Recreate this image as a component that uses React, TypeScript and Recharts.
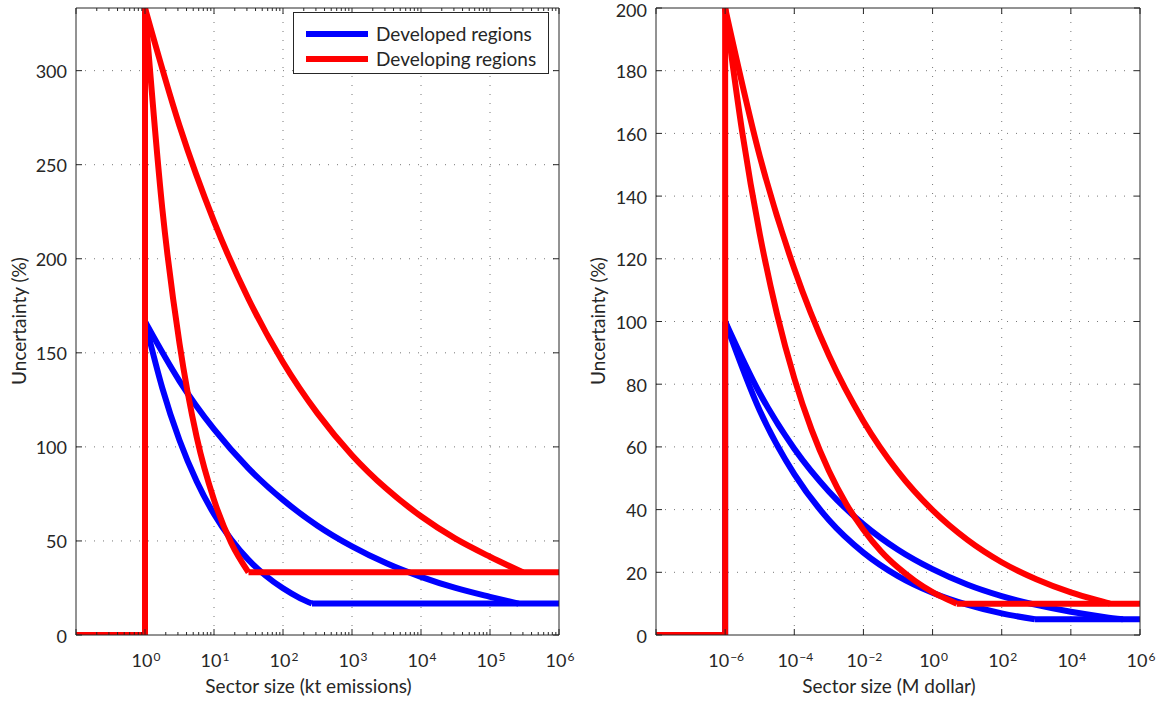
import React from "react";
import { LineChart, Line, XAxis, YAxis, ReferenceLine } from "recharts";

type Pt = { x: number; y: number };

const FONT = "Lato, 'Open Sans', sans-serif";
const BLUE = "#0000ff";
const RED = "#ff0000";
const AXIS = "#262626";
const TEXT = "#262626";

// ---- left panel: sector size in kt emissions ----
const ktTicksY = [0, 50, 100, 150, 200, 250, 300];
const ktMajorX = [0.1, 1, 10, 100, 1e3, 1e4, 1e5, 1e6];
const ktLabelX = [1, 10, 100, 1e3, 1e4, 1e5, 1e6];

const ktDevelopedRise: Pt[] = [
  { x: 0.1, y: 0 },
  { x: 1, y: 0 },
  { x: 1, y: 166.7 },
];
const ktDevelopedSteep: Pt[] = [
  { x: 1, y: 166.7 },
  { x: 1.778, y: 131.4 },
  { x: 3.162, y: 103.5 },
  { x: 5.623, y: 81.6 },
  { x: 10, y: 64.3 },
  { x: 17.78, y: 50.7 },
  { x: 31.62, y: 39.9 },
  { x: 56.23, y: 31.5 },
  { x: 100, y: 24.8 },
  { x: 177.8, y: 19.5 },
  { x: 263, y: 16.7 },
];
const ktDevelopedGentle: Pt[] = [
  { x: 1, y: 166.7 },
  { x: 3.162, y: 135.0 },
  { x: 10, y: 109.4 },
  { x: 31.62, y: 88.6 },
  { x: 100, y: 71.8 },
  { x: 316.2, y: 58.1 },
  { x: 1e3, y: 47.1 },
  { x: 3162, y: 38.1 },
  { x: 1e4, y: 30.9 },
  { x: 31620, y: 25.0 },
  { x: 1e5, y: 20.3 },
  { x: 2.6e5, y: 16.7 },
];
const ktDevelopedFloor: Pt[] = [
  { x: 263, y: 16.7 },
  { x: 1e6, y: 16.7 },
];

const ktDevelopingRise: Pt[] = [
  { x: 0.1, y: 0 },
  { x: 1, y: 0 },
  { x: 1, y: 333.3 },
];
const ktDevelopingSteep: Pt[] = [
  { x: 1, y: 333.3 },
  { x: 1.778, y: 227 },
  { x: 3.162, y: 155 },
  { x: 5.623, y: 105 },
  { x: 10, y: 71.8 },
  { x: 17.78, y: 48.9 },
  { x: 31.62, y: 33.3 },
];
const ktDevelopingGentle: Pt[] = [
  { x: 1, y: 333.3 },
  { x: 3.162, y: 270.7 },
  { x: 10, y: 219.9 },
  { x: 31.62, y: 178.6 },
  { x: 100, y: 145.0 },
  { x: 316.2, y: 117.8 },
  { x: 1e3, y: 95.6 },
  { x: 3162, y: 77.7 },
  { x: 1e4, y: 63.1 },
  { x: 31620, y: 51.2 },
  { x: 1e5, y: 41.6 },
  { x: 3.0e5, y: 33.3 },
];
const ktDevelopingFloor: Pt[] = [
  { x: 31.62, y: 33.3 },
  { x: 1e6, y: 33.3 },
];

// ---- right panel: sector size in M dollar ----
const usdTicksY = [0, 20, 40, 60, 80, 100, 120, 140, 160, 180, 200];
const usdMajorX = [1e-8, 1e-6, 1e-4, 1e-2, 1, 100, 1e4, 1e6];
const usdLabelX = [1e-6, 1e-4, 1e-2, 1, 100, 1e4, 1e6];

const usdDevelopedRise: Pt[] = [
  { x: 1e-8, y: 0 },
  { x: 1e-6, y: 0 },
  { x: 1e-6, y: 100 },
];
const usdDevelopedSteep: Pt[] = [
  { x: 1e-6, y: 100 },
  { x: 1e-5, y: 71.6 },
  { x: 1e-4, y: 51.3 },
  { x: 1e-3, y: 36.7 },
  { x: 1e-2, y: 26.3 },
  { x: 1e-1, y: 18.8 },
  { x: 1, y: 13.5 },
  { x: 10, y: 9.7 },
  { x: 100, y: 6.9 },
  { x: 912, y: 5.0 },
];
const usdDevelopedGentle: Pt[] = [
  { x: 1e-6, y: 100 },
  { x: 1e-5, y: 77.1 },
  { x: 1e-4, y: 59.4 },
  { x: 1e-3, y: 45.8 },
  { x: 1e-2, y: 35.3 },
  { x: 1e-1, y: 27.2 },
  { x: 1, y: 21.0 },
  { x: 10, y: 16.1 },
  { x: 100, y: 12.4 },
  { x: 1e3, y: 9.6 },
  { x: 1e4, y: 7.4 },
  { x: 1e5, y: 5.7 },
  { x: 3.2e5, y: 5.0 },
];
const usdDevelopedFloor: Pt[] = [
  { x: 912, y: 5.0 },
  { x: 1e6, y: 5.0 },
];

const usdDevelopingRise: Pt[] = [
  { x: 1e-8, y: 0 },
  { x: 1e-6, y: 0 },
  { x: 1e-6, y: 200 },
];
const usdDevelopingSteep: Pt[] = [
  { x: 1e-6, y: 200 },
  { x: 3.162e-6, y: 160 },
  { x: 1e-5, y: 128 },
  { x: 3.162e-5, y: 102.4 },
  { x: 1e-4, y: 81.9 },
  { x: 3.162e-4, y: 65.5 },
  { x: 1e-3, y: 52.4 },
  { x: 3.162e-3, y: 41.9 },
  { x: 1e-2, y: 33.6 },
  { x: 3.162e-2, y: 26.8 },
  { x: 0.1, y: 21.5 },
  { x: 0.3162, y: 17.2 },
  { x: 1, y: 13.7 },
  { x: 3.162, y: 11.0 },
  { x: 5.0, y: 10 },
];
const usdDevelopingGentle: Pt[] = [
  { x: 1e-6, y: 200 },
  { x: 1e-5, y: 152.8 },
  { x: 1e-4, y: 116.8 },
  { x: 1e-3, y: 89.2 },
  { x: 1e-2, y: 68.2 },
  { x: 0.1, y: 52.1 },
  { x: 1, y: 39.8 },
  { x: 10, y: 30.4 },
  { x: 100, y: 23.2 },
  { x: 1e3, y: 17.8 },
  { x: 1e4, y: 13.6 },
  { x: 1e5, y: 10.4 },
  { x: 1.35e5, y: 10 },
];
const usdDevelopingFloor: Pt[] = [
  { x: 5.0, y: 10 },
  { x: 1e6, y: 10 },
];

// minor log ticks 2..9 per decade
function minorTicks(from: number, to: number) {
  const out: number[] = [];
  for (let e = from; e < to; e++) {
    for (let m = 2; m <= 9; m++) out.push(m * Math.pow(10, e));
  }
  return out;
}

function expLabel(v: number) {
  return String(Math.round(Math.log10(v))).replace("-", "\u2212");
}

type PanelProps = {
  width: number;
  plotRight: number;
  yMax: number;
  yTicks: number[];
  xDomain: [number, number];
  xMajor: number[];
  xLabelled: number[];
  xMinor: number[];
  xTitle: string;
  blue: Pt[][];
  red: Pt[][];
};

function Panel({ width, plotRight, yMax, yTicks, xDomain, xMajor, xLabelled, xMinor, xTitle, blue, red }: PanelProps) {
  const xTicks = [...xMajor, ...xMinor];
  const near = (list: number[], v: number) => list.some((m) => Math.abs(m - v) / m < 1e-6);

  const bottomTick = (p: any) => {
    const v = p.payload.value;
    const len = near(xMajor, v) ? 6 : 3;
    return (
      <g>
        <line x1={p.x} x2={p.x} y1={p.y} y2={p.y - len} stroke={AXIS} strokeWidth={1} />
        {near(xLabelled, v) && (
          <text x={p.x + 1} y={p.y + 32} textAnchor="middle" fontFamily={FONT} fontSize={18} fill={TEXT}>
            10
            <tspan dx={1} dy={-6} fontSize={12}>
              {expLabel(v)}
            </tspan>
          </text>
        )}
      </g>
    );
  };
  const topTick = (p: any) => {
    const len = near(xMajor, p.payload.value) ? 6 : 3;
    return <line x1={p.x} x2={p.x} y1={p.y} y2={p.y + len} stroke={AXIS} strokeWidth={1} />;
  };
  const leftTick = (p: any) => (
    <g>
      <line x1={p.x} x2={p.x + 6} y1={p.y} y2={p.y} stroke={AXIS} strokeWidth={1} />
      <text x={p.x - 9} y={Math.max(p.y + 7.5, 17)} textAnchor="end" fontFamily={FONT} fontSize={18} fill={TEXT}>
        {p.payload.value}
      </text>
    </g>
  );
  const rightTick = (p: any) => (
    <line x1={p.x} x2={p.x - 6} y1={p.y} y2={p.y} stroke={AXIS} strokeWidth={1} />
  );

  const gridX = xMajor.filter((v) => v > xDomain[0] * 1.001 && v < xDomain[1] * 0.999);
  const gridY = yTicks.filter((v) => v > 0 && v < yMax);

  const common = {
    allowDataOverflow: true,
    interval: 0 as const,
    tickSize: 0,
    tickMargin: 0,
    tickLine: false,
    axisLine: { stroke: AXIS, strokeWidth: 1 },
  };

  return (
    <LineChart width={width} height={702} margin={{ top: 7, right: width - plotRight - 1, bottom: 66, left: 75 }}>
      <XAxis
        {...common}
        dataKey="x"
        type="number"
        scale="log"
        domain={xDomain}
        ticks={xTicks}
        height={1}
        tick={bottomTick}
        label={{ value: xTitle, position: "bottom", offset: 44, dx: -9, fontFamily: FONT, fontSize: 19, fill: TEXT }}
      />
      <XAxis
        {...common}
        xAxisId="top"
        orientation="top"
        dataKey="x"
        type="number"
        scale="log"
        domain={xDomain}
        ticks={xTicks}
        height={1}
        tick={topTick}
      />
      <YAxis {...common} type="number" domain={[0, yMax]} ticks={yTicks} width={1} tick={leftTick} />
      <YAxis
        {...common}
        yAxisId="right"
        orientation="right"
        type="number"
        domain={[0, yMax]}
        ticks={yTicks}
        width={1}
        tick={rightTick}
      />
      {gridX.map((v) => (
        <ReferenceLine key={"gx" + v} x={v} stroke="#777" strokeDasharray="1 8" strokeWidth={1} />
      ))}
      {gridY.map((v) => (
        <ReferenceLine key={"gy" + v} y={v} stroke="#777" strokeDasharray="1 8" strokeWidth={1} />
      ))}
      {blue.map((pts, i) => (
        <Line
          key={"b" + i}
          data={pts}
          dataKey="y"
          type={i === 0 || pts.length === 2 ? "linear" : "monotone"}
          stroke={BLUE}
          strokeWidth={6}
          dot={false}
          activeDot={false}
          isAnimationActive={false}
        />
      ))}
      {red.map((pts, i) => (
        <Line
          key={"r" + i}
          data={pts}
          dataKey="y"
          type={i === 0 || pts.length === 2 ? "linear" : "monotone"}
          stroke={RED}
          strokeWidth={6}
          dot={false}
          activeDot={false}
          isAnimationActive={false}
        />
      ))}
    </LineChart>
  );
}

function YTitle({ left }: { left: number }) {
  return (
    <div
      style={{
        position: "absolute",
        left: left,
        top: 321,
        transform: "translate(-50%, -50%) rotate(-90deg)",
        fontFamily: FONT,
        fontSize: 19,
        color: TEXT,
        whiteSpace: "nowrap",
      }}
    >
      Uncertainty (%)
    </div>
  );
}

function Legend() {
  const row = (color: string, label: string) => (
    <div style={{ display: "flex", alignItems: "center", height: 25 }}>
      <svg width={62} height={10} style={{ marginRight: 8 }}>
        <line x1={0} x2={62} y1={5} y2={5} stroke={color} strokeWidth={6} />
      </svg>
      <span>{label}</span>
    </div>
  );
  return (
    <div
      style={{
        position: "absolute",
        left: 293,
        top: 12,
        width: 256,
        height: 62,
        boxSizing: "border-box",
        border: "1px solid #262626",
        background: "#fff",
        padding: "8px 0 0 12px",
        fontFamily: FONT,
        fontSize: 19,
        color: TEXT,
      }}
    >
      {row(BLUE, "Developed regions")}
      {row(RED, "Developing regions")}
    </div>
  );
}

export default function App() {
  return (
    <div style={{ position: "absolute", left: 0, top: 0, width: 1163, height: 702, background: "#fff" }}>
      <div style={{ position: "absolute", left: 0, top: 0 }}>
        <Panel
          width={580}
          plotRight={559}
          yMax={333.3}
          yTicks={ktTicksY}
          xDomain={[0.1, 1e6]}
          xMajor={ktMajorX}
          xLabelled={ktLabelX}
          xMinor={minorTicks(-1, 6)}
          xTitle="Sector size (kt emissions)"
          blue={[ktDevelopedRise, ktDevelopedSteep, ktDevelopedGentle, ktDevelopedFloor]}
          red={[ktDevelopingRise, ktDevelopingSteep, ktDevelopingGentle, ktDevelopingFloor]}
        />
      </div>
      <div style={{ position: "absolute", left: 580, top: 0 }}>
        <Panel
          width={583}
          plotRight={560}
          yMax={200}
          yTicks={usdTicksY}
          xDomain={[1e-8, 1e6]}
          xMajor={usdMajorX}
          xLabelled={usdLabelX}
          xMinor={[]}
          xTitle="Sector size (M dollar)"
          blue={[usdDevelopedRise, usdDevelopedSteep, usdDevelopedGentle, usdDevelopedFloor]}
          red={[usdDevelopingRise, usdDevelopingSteep, usdDevelopingGentle, usdDevelopingFloor]}
        />
      </div>
      <YTitle left={18} />
      <YTitle left={597} />
      <Legend />
    </div>
  );
}
